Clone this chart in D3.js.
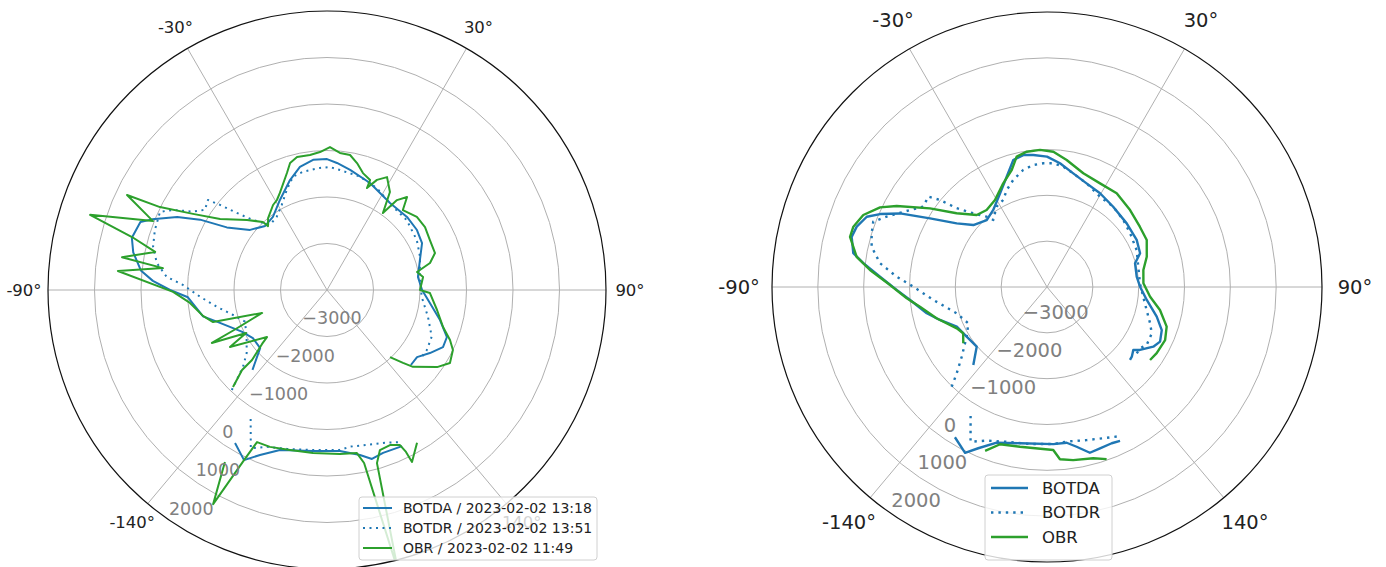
<!DOCTYPE html>
<html>
<head>
<meta charset="utf-8">
<script src="https://cdn.jsdelivr.net/npm/d3@7"></script>
<style>
body { margin: 0; background: #fff; }
svg { display: block; font-family: "DejaVu Sans", sans-serif; }
</style>
</head>
<body>
<svg id="chart" width="1386" height="567"></svg>
<script>
// Polar axes: angle in degrees (0 = top, clockwise), value on the radial axis
const thetaTicks = [-140, -90, -30, 30, 90, 140];
const rTicks = [-3000, -2000, -1000, 0, 1000, 2000];
const rDomain = [-4000, 2000];

const leftLabels = ["BOTDA / 2023-02-02 13:18", "BOTDR / 2023-02-02 13:51", "OBR / 2023-02-02 11:49"];
const rightLabels = ["BOTDA", "BOTDR", "OBR"];

// left chart, [angle, value]; null = break in the line
const leftBotda = [
  [-137,-1650],[-131,-2095],[-123,-2100],[-116,-1960],[-106,-1535],[-102,-1275],[-93,-1005],[-90,-625],
  [-87,-250],[-84,25],[-79,245],[-75,345],[-70,270],[-68,55],[-64,-415],[-61,-880],[-58,-1460],[-52,-1900],
  [-44,-2085],[-36.5,-2045],[-27.6,-1815],[-18.6,-1505],[-12.4,-1290],[-6.1,-1185],[0,-1185],[4.5,-1260],
  [10.9,-1370],[21.9,-1520],[35.9,-1690],[47.6,-1670],[56.3,-1675],[63.7,-1720],[72.1,-1900],[81.9,-2025],
  [90,-1955],[97.2,-1770],[104.9,-1485],[111.4,-1230],[116.2,-1220],[121.5,-1405],[126.7,-1585],[131.8,-1580],
  null,
  [154.3,-275],[161,-295],[165.1,-240],[168.7,-380],[175.4,-525],[185,-525],[196.4,-415],[202.1,-170],[206,70],[211,-160]
];
const leftBotdr = [
  [-136.4,-1030],[-134.9,-1260],[-132.4,-1555],[-128.1,-1805],[-120.2,-2000],[-111.1,-2110],[-104.9,-1910],
  [-98.6,-1600],[-93,-1265],[-88,-900],[-85.3,-540],[-81,-295],[-76,-145],[-70.8,-80],[-64.9,-35],[-62.5,-270],
  [-59.7,-660],[-56.7,-860],[-52.9,-790],[-51.5,-1060],[-49.5,-1445],[-46.6,-1810],[-41.2,-2140],[-34.5,-2090],
  [-28.1,-1930],[-21.9,-1680],[-16.7,-1455],[-11.5,-1405],[-3.3,-1370],[1.4,-1355],[6.2,-1405],[16.2,-1460],
  [26,-1560],[38.4,-1715],[48.7,-1720],[60.9,-1790],[70.3,-1875],[79.6,-1970],[94,-1960],[104.8,-1755],
  [114,-1535],[121,-1495],[125.9,-1505],
  null,
  [155,-390],[158.6,-475],[165.6,-560],[171.6,-595],[175.4,-550],[185,-545],[194.2,-475],[201,-390],[205.7,-220],[211.2,-830]
];
const leftObr = [
  [-135.9,-1095],[-133.3,-1490],[-133,-1795],[-129.7,-2185],[-128.1,-2360],[-120.4,-1580],[-118,-2030],
  [-114.7,-1275],[-113.3,-1825],[-109.5,-2520],[-105.7,-1455],[-101.8,-1275],[-95.4,-1040],[-90.7,-690],
  [-84.8,515],[-82.4,-440],[-80.9,465],[-77.5,-215],[-74.8,345],[-72.4,1345],[-68.4,25],[-64.6,760],
  [-63.6,10],[-60.4,-685],[-56.4,-1240],[-48.8,-1715],[-43.3,-1990],[-42.7,-2130],[-39.3,-2000],[-32.4,-1835],
  [-29.1,-1785],[-25.9,-1680],[-18.9,-1340],[-16.2,-1155],[-12.7,-1070],[-7.2,-1075],[-2.9,-1030],[1.2,-925],
  [5.4,-1040],[9.7,-1055],[13.3,-1195],[17.1,-1370],[21.4,-1460],[21.4,-1645],[24.4,-1400],[28,-1250],
  [32.7,-1495],[36,-1955],[37.9,-1550],[40.7,-1360],[43.5,-1630],[50.9,-1510],[57.3,-1495],[64.1,-1540],
  [71.1,-1545],[75.3,-1710],[78.7,-2025],[82.3,-1915],[90,-2000],[91.7,-1785],[100.3,-1595],[107.7,-1380],
  [112.1,-1145],[115.5,-1000],[120.7,-925],[125,-1110],[131.8,-1520],[133.8,-1735],[136.8,-2020],
  null,
  [149.5,-185],[153.7,125],[154,-125],[154.8,-315],[157.9,-400],[161.7,-375],[163.9,-125],[165.8,2215],
  [167.9,-195],[169.6,-435],[175.5,-460],[184.9,-480],[193,-470],[200,-410],[204.7,-400],[206,70],[208,1215],[210.7,300]
];

// right chart
const rightBotda = [
  [-136.6,-1660],[-130.3,-1990],[-121.7,-1940],[-113.7,-1850],[-107.1,-1555],[-102.3,-1315],[-95.4,-1000],
  [-91.1,-720],[-86.5,-350],[-82.6,40],[-80.1,290],[-75.6,400],[-72.4,355],[-68.7,220],[-66.4,-25],
  [-63.4,-415],[-59.6,-1040],[-54.8,-1590],[-49.9,-1900],[-42,-2035],[-34.9,-1950],[-26.6,-1715],
  [-20.1,-1440],[-14.9,-1135],[-10.2,-1075],[-5.9,-1105],[0,-1155],[6,-1285],[13,-1455],[20.9,-1580],
  [29.5,-1650],[39.5,-1730],[51.4,-1775],[62.3,-1790],[70.1,-1840],[74.9,-2010],[83.4,-2030],[89.8,-1970],
  [97.4,-1805],[105.1,-1520],[110.6,-1325],[115.8,-1260],[119.3,-1340],[124.1,-1550],[126.1,-1670],
  [129.4,-1605],[131.3,-1590],
  null,
  [154.6,-285],[157.5,-310],[161.8,-295],[165.5,-265],[169.5,-455],[172.8,-575],[177.7,-570],[189.8,-540],
  [197.9,-430],[203.1,-175],[206.3,35],[211.5,-155]
];
const rightBotdr = [
  [-136.3,-990],[-133.7,-1275],[-129.3,-1595],[-121.7,-1940],[-114.8,-2110],[-106.2,-1945],[-96.5,-1505],
  [-89.9,-1085],[-86.1,-715],[-81.9,-320],[-77.1,-75],[-73,0],[-69.4,50],[-66.3,-180],[-60.7,-570],
  [-57,-780],[-52.7,-745],[-50.9,-990],[-48.9,-1385],[-45,-1725],[-40.6,-1980],[-38.7,-2125],[-32.1,-1930],
  [-26.7,-1875],[-22.6,-1710],[-17.5,-1550],[-11.5,-1395],[-6.4,-1320],[-1.7,-1300],[2.9,-1295],[7.7,-1350],
  [13,-1455],[20.9,-1580],[30.4,-1715],[39.5,-1730],[48.7,-1785],[57.1,-1840],[67.6,-1885],[77.5,-1960],
  [87.7,-1970],[95.8,-1890],[103,-1770],[109.4,-1615],[113.9,-1500],[120.2,-1485],[123.4,-1570],[126.5,-1565],
  null,
  [155,-400],[159.6,-480],[165.5,-550],[172.7,-600],[177.7,-570],[186.2,-555],[194.6,-510],[201.4,-400],
  [206.3,-235],[211.5,-810]
];
const rightObr = [
  [-123.9,-1800],[-118.9,-1910],[-114.6,-1835],[-105.8,-1495],[-98.8,-1195],[-94.6,-930],[-89.3,-575],
  [-84.5,-120],[-81,205],[-75.7,435],[-72.7,425],[-68.6,305],[-64.5,35],[-61.7,-275],[-56.1,-925],
  [-50.8,-1455],[-44.3,-1805],[-38.1,-1865],[-30.9,-1790],[-22.9,-1545],[-16.8,-1335],[-13.1,-1080],
  [-8.5,-1015],[-2.9,-1005],[2.7,-1045],[8.8,-1195],[17.7,-1395],[27.1,-1460],[36.6,-1450],[47.2,-1530],
  [57,-1585],[64.8,-1595],[73.1,-1725],[80,-1865],[87.8,-1895],[95.4,-1740],[101.5,-1485],[108.3,-1250],
  [114.2,-1175],[121.1,-1205],[125.3,-1245],
  null,
  [160.9,-25],[164.9,-130],[171.4,-180],[175.7,-230],[177.8,-440],[189.6,-465],[196.6,-420],[200.7,-180]
];

const blue = "#1f77b4", green = "#2ca02c";
const svg = d3.select("#chart");
const rad = a => a * Math.PI / 180;
const fmt = v => (v < 0 ? "\u2212" + Math.abs(v) : String(v));

// drawPolar
// ---------
// Dibuja un eje polar completo (rejilla, series, etiquetas y leyenda)
function drawPolar(cfg) {
  const g = svg.append("g").attr("transform", "translate(" + cfg.cx + "," + cfg.cy + ")");
  const r = d3.scaleLinear().domain(rDomain).range([0, cfg.R]);

  // rejilla
  g.selectAll(null).data(rTicks.slice(0, -1)).join("circle")
    .attr("r", d => r(d)).attr("fill", "none")
    .attr("stroke", "#b0b0b0").attr("stroke-width", 1);
  g.selectAll(null).data(thetaTicks).join("line")
    .attr("x1", 0).attr("y1", 0)
    .attr("x2", d => cfg.R * Math.sin(rad(d)))
    .attr("y2", d => -cfg.R * Math.cos(rad(d)))
    .attr("stroke", "#b0b0b0").attr("stroke-width", 1);

  g.append("clipPath").attr("id", cfg.id + "-clip")
    .append("circle").attr("r", cfg.R);

  const line = d3.lineRadial()
    .defined(d => d !== null)
    .angle(d => rad(d[0]))
    .radius(d => r(d[1]));

  const series = [
    { data: cfg.botda, color: blue, dash: null },
    { data: cfg.botdr, color: blue, dash: cfg.dash },
    { data: cfg.obr, color: green, dash: null }
  ];
  const lines = g.append("g").attr("clip-path", "url(#" + cfg.id + "-clip)");
  lines.selectAll(null).data(series).join("path")
    .attr("d", d => line(d.data))
    .attr("fill", "none")
    .attr("stroke", d => d.color)
    .attr("stroke-width", cfg.lw)
    .attr("stroke-linejoin", "round")
    .attr("stroke-dasharray", d => d.dash);

  // borde exterior
  g.append("circle").attr("r", cfg.R).attr("fill", "none")
    .attr("stroke", "#111").attr("stroke-width", 1.2);

  // etiquetas angulares
  const lr = cfg.R + cfg.thetaPad;
  g.selectAll(null).data(thetaTicks).join("text")
    .attr("x", d => lr * Math.sin(rad(d)))
    .attr("y", d => -lr * Math.cos(rad(d)))
    .attr("text-anchor", "middle")
    .attr("dominant-baseline", "central")
    .attr("font-size", cfg.thetaFont)
    .attr("fill", "#222")
    .text(d => d + "\u00b0");

  // etiquetas radiales
  const la = rad(-145);
  g.selectAll(null).data(rTicks).join("text")
    .attr("x", d => r(d) * Math.sin(la) + 2)
    .attr("y", d => -r(d) * Math.cos(la) + cfg.rLabelDy)
    .attr("dominant-baseline", "central")
    .attr("font-size", cfg.rFont)
    .attr("fill", "#808080")
    .text(fmt);

  // leyenda
  const lg = svg.append("g").attr("transform", "translate(" + cfg.legend.x + "," + cfg.legend.y + ")");
  lg.append("rect")
    .attr("width", cfg.legend.w).attr("height", cfg.legend.h)
    .attr("rx", 3)
    .attr("fill", "#fff").attr("fill-opacity", 0.8)
    .attr("stroke", "#d0d0d0").attr("stroke-width", 1);
  const rows = lg.selectAll(null).data(series).join("g")
    .attr("transform", (d, i) => "translate(0," + (cfg.legend.top + i * cfg.legend.step) + ")");
  rows.append("line")
    .attr("x1", cfg.legend.hx).attr("x2", cfg.legend.hx + cfg.legend.hw)
    .attr("stroke", d => d.color).attr("stroke-width", cfg.lw)
    .attr("stroke-dasharray", d => d.dash);
  rows.append("text")
    .attr("x", cfg.legend.tx)
    .attr("dominant-baseline", "central")
    .attr("font-size", cfg.legend.font)
    .attr("fill", "#222")
    .text((d, i) => cfg.labels[i]);
}

drawPolar({
  id: "left", cx: 327, cy: 290, R: 279,
  botda: leftBotda, botdr: leftBotdr, obr: leftObr, labels: leftLabels,
  lw: 2, dash: "2,4.5",
  thetaPad: 24, thetaFont: 16.5, rFont: 17.5, rLabelDy: -10,
  legend: { x: 359, y: 497, w: 238, h: 63, top: 11, step: 20, hx: 4, hw: 29, tx: 44, font: 14 }
});

drawPolar({
  id: "right", cx: 1047, cy: 287, R: 275,
  botda: rightBotda, botdr: rightBotdr, obr: rightObr, labels: rightLabels,
  lw: 2.4, dash: "2.4,5",
  thetaPad: 33, thetaFont: 19.5, rFont: 19.5, rLabelDy: -12,
  legend: { x: 985, y: 475, w: 127, h: 85, top: 13, step: 24.5, hx: 6, hw: 37, tx: 57, font: 16.5 }
});
</script>
</body>
</html>
